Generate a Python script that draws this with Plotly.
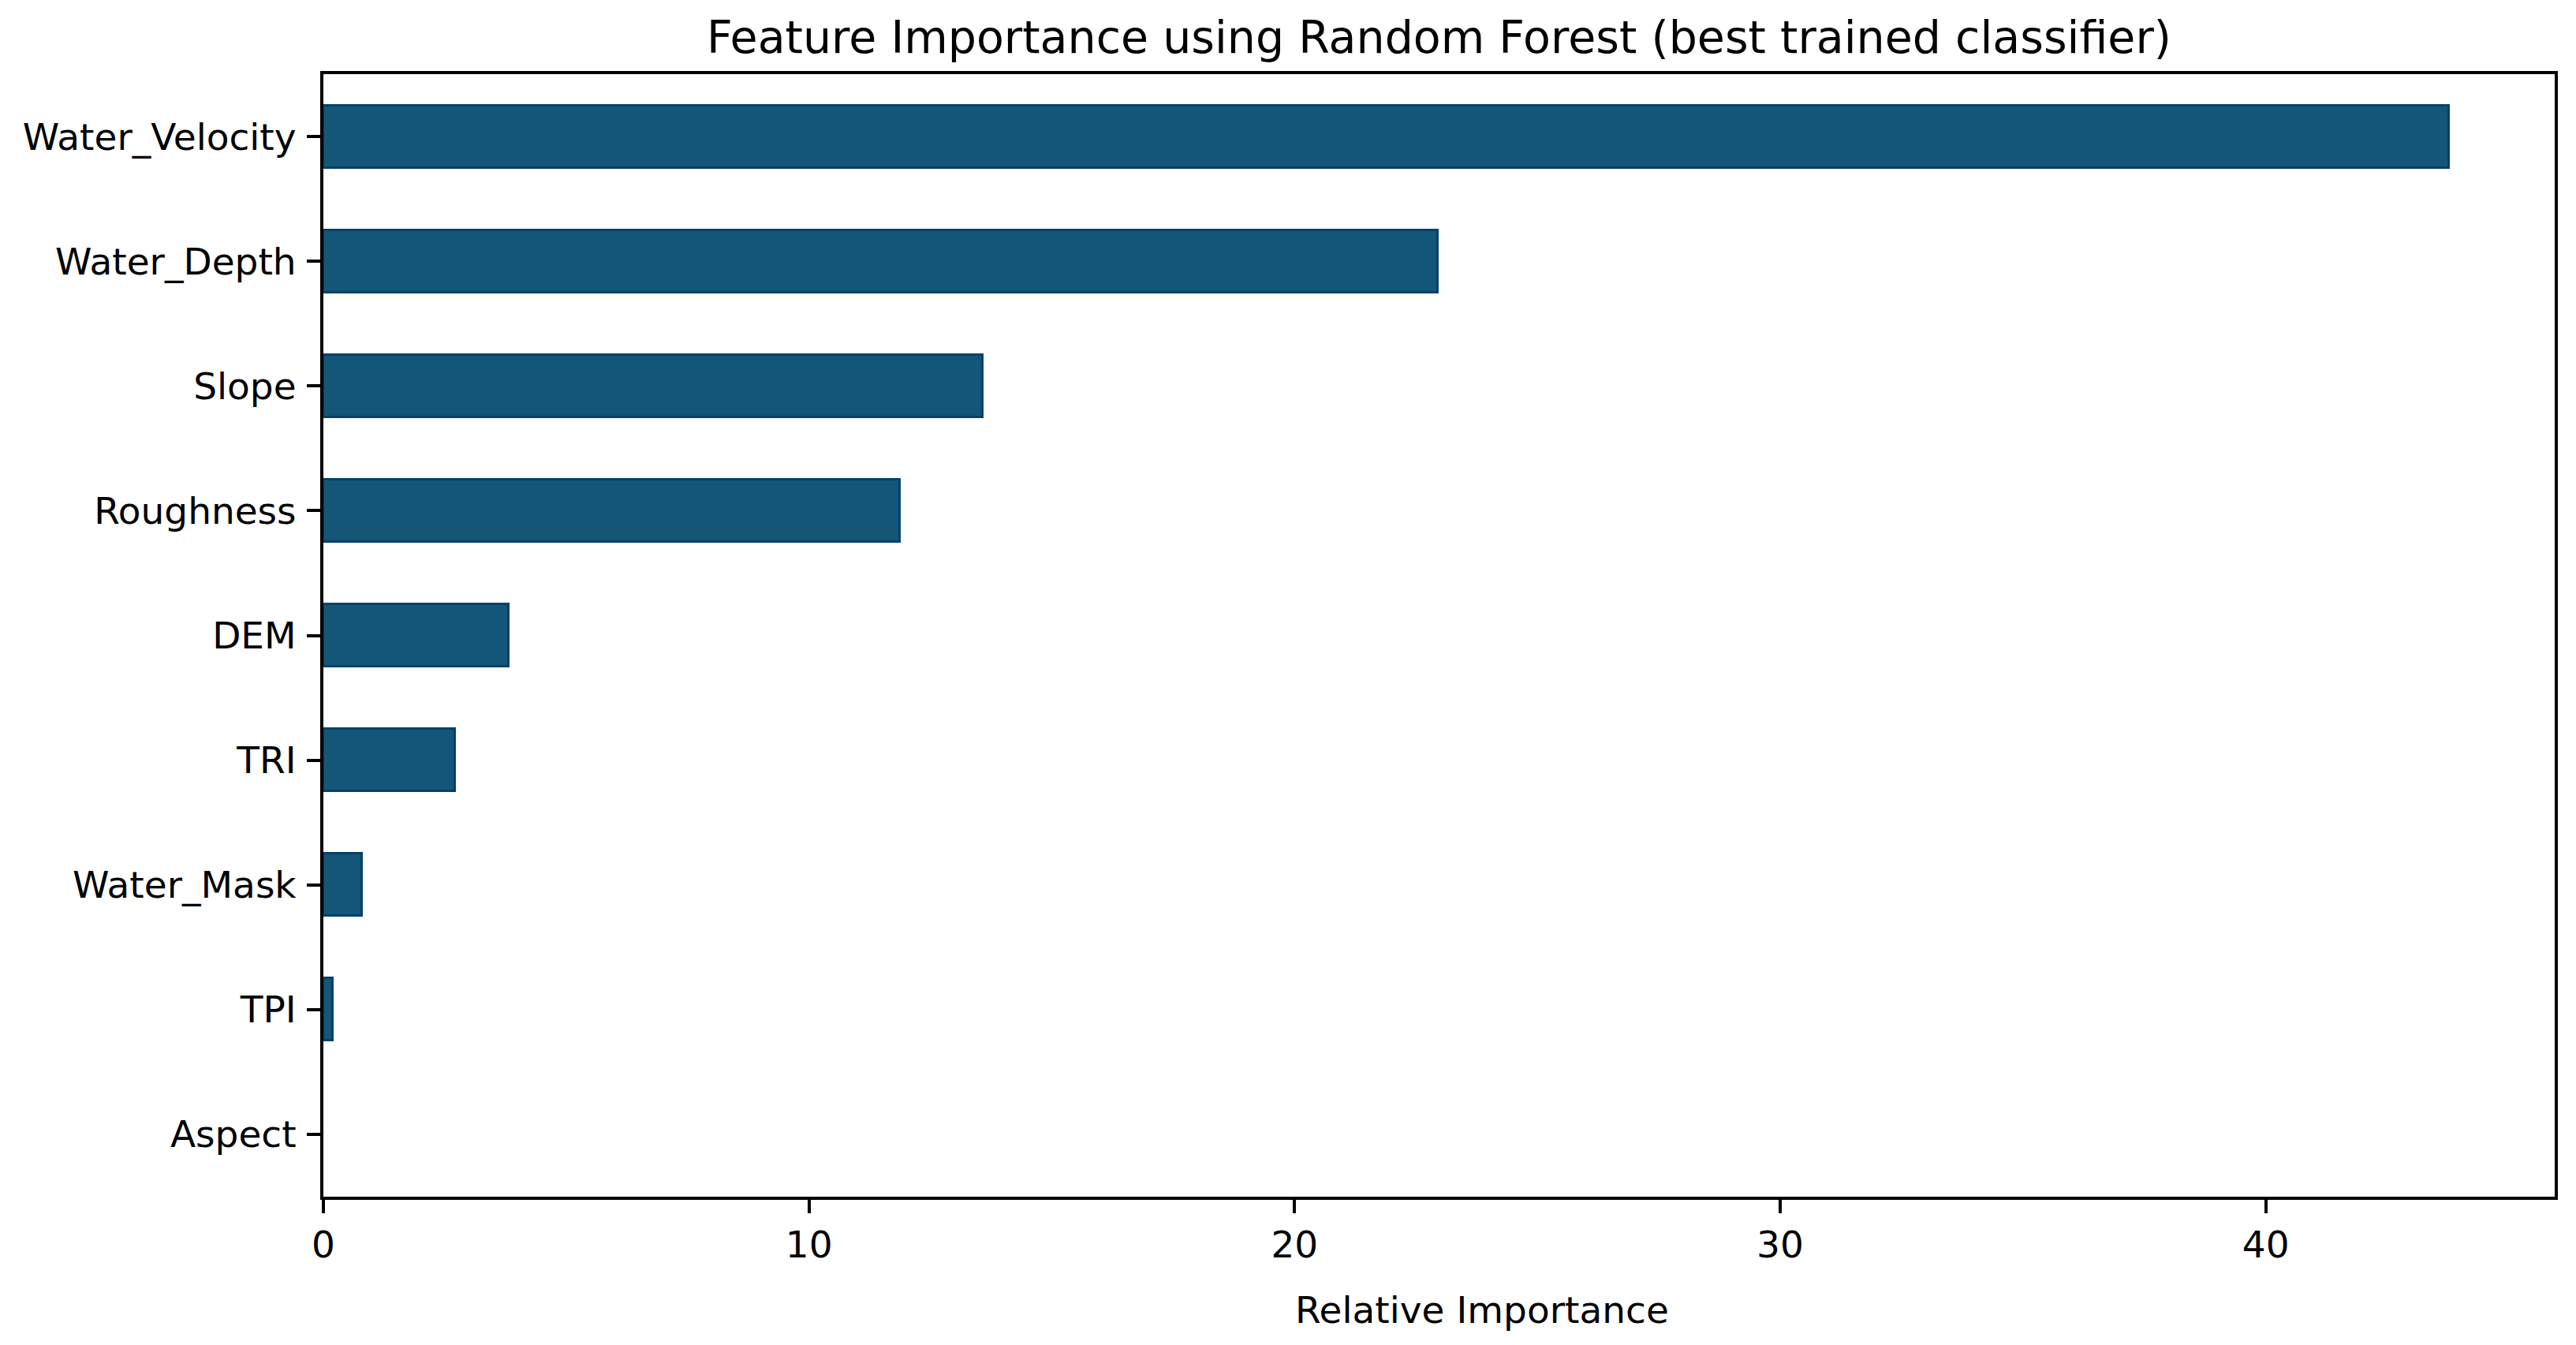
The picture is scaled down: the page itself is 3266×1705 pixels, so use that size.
import plotly.graph_objects as go

# Data (bottom to top as drawn by the horizontal bar chart)
features = ["Aspect", "TPI", "Water_Mask", "TRI", "DEM", "Roughness", "Slope", "Water_Depth", "Water_Velocity"]
importance = [0.0, 0.2, 0.8, 2.71, 3.81, 11.88, 13.58, 22.95, 43.77]
x_ticks = [0, 10, 20, 30, 40]

W, H = 3266, 1705
FONT = "DejaVu Sans"
L, R, T, B = 410, 3239, 94, 1517

fig = go.Figure()
fig.add_trace(go.Bar(
    x=importance,
    y=features,
    orientation="h",
    width=0.5,
    marker=dict(color="#135678",
                line=dict(color="#06416a", width=[0 if v == 0 else 3 for v in importance])),
    showlegend=False,
))

axis_common = dict(
    showline=True, linecolor="black", linewidth=4, mirror=True,
    ticks="outside", ticklen=17, tickwidth=4, tickcolor="black",
    showgrid=False, zeroline=False,
    tickfont=dict(family=FONT, size=47, color="black"),
)

fig.update_layout(
    width=W, height=H,
    margin=dict(l=L, r=W - R, t=T, b=H - B),
    paper_bgcolor="white", plot_bgcolor="white",
    font=dict(family=FONT, color="black"),
    title=dict(
        text="Feature Importance using Random Forest (best trained classifier)",
        font=dict(family=FONT, size=57, color="black"),
        x=(L + R) / 2 / W, xanchor="center",
        y=1 - 47 / H, yanchor="middle", yref="container",
    ),
    bargap=0,
)

# x-axis label (placed as in the reference, slightly right of centre)
fig.add_annotation(
    text="Relative Importance", showarrow=False,
    xref="paper", yref="paper",
    x=(1879 - L) / (R - L), y=-(1660 - B) / (B - T),
    xanchor="center", yanchor="middle",
    font=dict(family=FONT, size=47, color="black"),
)

fig.update_xaxes(
    range=[0, 45.95], tickvals=x_ticks, ticktext=[str(v) for v in x_ticks],
    automargin=False,
    **axis_common,
)
fig.update_yaxes(
    type="category", categoryorder="array", categoryarray=features,
    range=[-0.5, 8.5], ticklabelstandoff=4, automargin=False,
    **axis_common,
)

fig.write_html("out.html", config={"displayModeBar": False},
               post_script="document.body.style.margin='0';")
